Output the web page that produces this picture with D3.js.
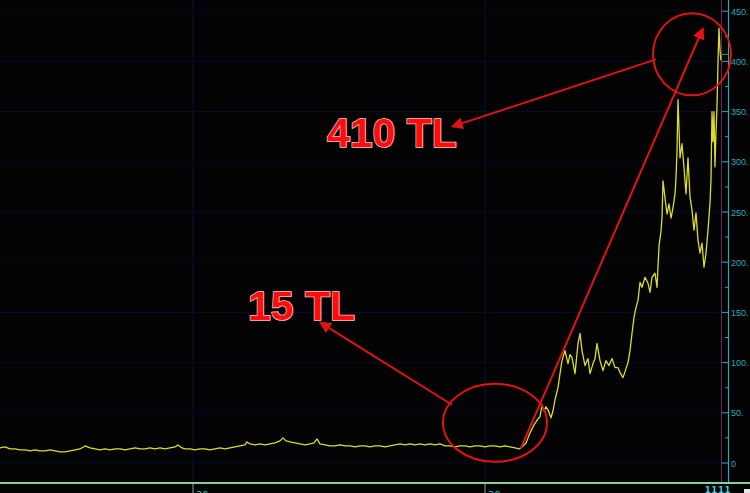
<!DOCTYPE html>
<meta charset="utf-8">
<style>
  body { margin: 0; background: #030303; }
  .tick-label { font: 9px "Liberation Sans", Arial, sans-serif; fill: #2aa9b9; }
  .callout { font: bold 41px "Liberation Sans", Arial, sans-serif; fill: #ff0c0c;
             stroke: #ffc4c4; stroke-width: 1.6; paint-order: stroke fill; }
</style>
<body>
<script src="https://d3js.org/d3.v7.min.js"></script>
<script>
// bar index (session) and closing price
var days = [0,5,10,15,20,25,30,35,40,45,50,55,60,65,70,75,80,85,90,95,100,105,110,115,120,125,130,135,140,145,150,155,160,165,170,175,178,182,185,190,195,200,205,210,215,220,225,230,235,240,245,247,250,255,260,265,270,275,280,283,286,290,295,300,305,310,314,317,320,325,330,335,340,345,350,355,360,365,370,375,380,385,390,395,400,405,410,415,420,425,430,435,440,445,450,455,460,465,470,475,480,485,490,495,500,505,510,515,519,
  522,526,530,534,538,540,542,544,546,548,551,553,555,558,560,562,565,568,570,572,575,578,580,582,585,588,590,593,595,597,600,603,606,609,612,615,618,620,623,626,628,630,632,634,636,638,640,642,645,648,650,652,655,657,659,661,662,663,665,667,669,671,673,675,676,677,678,680,682,684,686,688,690,692,694,696,698,700,702,704,706,708,710,711,712,713,714,715,716,717,718,719,720,721];
var prices = [15,16,14,14,13,13,12,13,12,12,13,12,11,11,12,13,14,17,15,14,13,14,13,14,14,13,14,15,14,14,15,14,15,14,15,16,18,15,14,14,13,14,14,13,14,15,14,15,16,17,18,21,19,18,19,18,19,20,22,25,22,21,20,19,18,19,20,24,19,18,17,17,18,17,17,16,17,17,16,17,17,16,17,18,19,18,19,18,19,18,19,18,19,17,17,16,17,17,16,17,17,16,17,17,16,17,16,15,14,
  16,20,30,38,44,46,58,52,56,53,45,52,63,75,89,102,112,99,108,105,89,119,129,112,97,104,89,99,104,119,102,92,102,97,104,95,95,90,85,94,100,112,129,145,155,162,180,175,185,179,170,185,189,175,216,231,244,281,264,248,258,244,254,268,284,311,362,304,318,294,268,304,265,252,232,249,222,209,219,195,209,232,259,282,350,320,350,295,330,355,400,433,411,401];

var yTicks = [0,50,100,150,200,250,300,350,400,450];
var xGrid = [193,485];

// callouts: [day, price] of circle centres and arrow ends
var circles = [{day:692, price:407, rx:39, ry:41}, {day:495, price:40, rx:52, ry:39}];
var arrows = [
  {from:[656,402], to:[452,335]},
  {from:[521,15], to:[703,433]},
  {from:[452,58], to:[320,140]}
];
var labels = [{text:"410 TL", day:327, price:315}, {text:"15 TL", day:248, price:142}];

var width = 750, height = 493, bottom = 483, axisX = 728;

var svg = d3.select("body").append("svg")
    .attr("width", width).attr("height", height)
    .style("display", "block").style("background", "#030303");

var x = d3.scaleLinear().domain([0, 721]).range([0, 721]);
var y = d3.scaleLinear().domain([0, 450]).range([463, 11.2]);

// grid
svg.selectAll(".hgrid").data(yTicks).enter().append("line")
    .attr("x1", 0).attr("x2", axisX)
    .attr("y1", function(d) { return y(d); }).attr("y2", function(d) { return y(d); })
    .attr("stroke", "#09092e").attr("stroke-width", 1);
svg.selectAll(".vgrid").data(xGrid).enter().append("line")
    .attr("x1", function(d) { return d; }).attr("x2", function(d) { return d; })
    .attr("y1", 0).attr("y2", bottom)
    .attr("stroke", "#0d0d3e").attr("stroke-width", 1);

// magenta marker line
svg.append("line").attr("x1", 721.5).attr("x2", 721.5).attr("y1", 0).attr("y2", bottom)
    .attr("stroke", "#6b2468").attr("stroke-width", 1);

// price line
var line = d3.line()
    .x(function(d, i) { return x(days[i]); })
    .y(function(d) { return y(d); });
svg.append("path").datum(prices)
    .attr("d", line)
    .attr("fill", "none")
    .attr("stroke", "#dcdc2a")
    .attr("stroke-width", 1.3)
    .attr("stroke-linejoin", "round");

// last price marker
svg.append("line").attr("x1", 718).attr("x2", axisX).attr("y1", y(407)).attr("y2", y(407))
    .attr("stroke", "#4f9a4a").attr("stroke-width", 1);

// right axis
var axis = svg.append("g").attr("transform", "translate(" + axisX + ",0)");
axis.append("line").attr("x1", 0.5).attr("x2", 0.5).attr("y1", 0).attr("y2", bottom)
    .attr("stroke", "#2aa9b9").attr("stroke-width", 1.2);
var minor = d3.range(0, 451, 25);
axis.selectAll(".minor").data(minor).enter().append("line")
    .attr("x1", function(d) { return d % 50 ? -3 : -6; }).attr("x2", 0)
    .attr("y1", function(d) { return y(d); }).attr("y2", function(d) { return y(d); })
    .attr("stroke", "#2aa9b9").attr("stroke-width", 1);
axis.selectAll(".tick-label").data(yTicks).enter().append("text")
    .attr("class", "tick-label")
    .attr("x", 3).attr("y", function(d) { return y(d) + 3.5; })
    .text(function(d) { return d === 0 ? "0" : d + "."; });

// bottom strip
svg.append("line").attr("x1", 0).attr("x2", width).attr("y1", bottom).attr("y2", bottom)
    .attr("stroke", "#8ccf9e").attr("stroke-width", 2);
svg.selectAll(".btick").data(xGrid).enter().append("line")
    .attr("x1", function(d) { return d; }).attr("x2", function(d) { return d; })
    .attr("y1", bottom + 1).attr("y2", height)
    .attr("stroke", "#9a9a9a").attr("stroke-width", 1);
svg.selectAll(".blabel").data(xGrid).enter().append("text")
    .attr("x", function(d) { return d + 3; }).attr("y", height + 6)
    .attr("fill", "#2ab8c4").attr("font-size", 10).attr("font-family", "DejaVu Sans")
    .text("20");
svg.append("text").attr("x", 705).attr("y", 493).attr("fill", "#3fd4e4")
    .attr("font-size", 8).attr("font-weight", "bold").attr("font-family", "DejaVu Sans")
    .attr("letter-spacing", 1).text("1111");
svg.append("rect").attr("x", 744).attr("y", 489).attr("width", 6).attr("height", 4).attr("fill", "#e8e8e8");

// callouts
var red = "#e01414";
var defs = svg.append("defs");
defs.append("marker").attr("id", "head").attr("viewBox", "0 0 10 10")
    .attr("refX", 9).attr("refY", 5).attr("markerWidth", 6).attr("markerHeight", 6)
    .attr("orient", "auto").attr("markerUnits", "strokeWidth")
  .append("path").attr("d", "M0,0L10,5L0,10Z").attr("fill", red);

svg.selectAll(".ring").data(circles).enter().append("ellipse")
    .attr("cx", function(d) { return x(d.day); }).attr("cy", function(d) { return y(d.price); })
    .attr("rx", function(d) { return d.rx; }).attr("ry", function(d) { return d.ry; })
    .attr("fill", "none").attr("stroke", red).attr("stroke-width", 2);

svg.selectAll(".arrow").data(arrows).enter().append("line")
    .attr("x1", function(d) { return x(d.from[0]); }).attr("y1", function(d) { return y(d.from[1]); })
    .attr("x2", function(d) { return x(d.to[0]); }).attr("y2", function(d) { return y(d.to[1]); })
    .attr("stroke", red).attr("stroke-width", 2)
    .attr("marker-end", "url(#head)");

svg.selectAll(".callout").data(labels).enter().append("text")
    .attr("class", "callout")
    .attr("x", function(d) { return x(d.day); }).attr("y", function(d) { return y(d.price); })
    .text(function(d) { return d.text; });
</script>
</body>
